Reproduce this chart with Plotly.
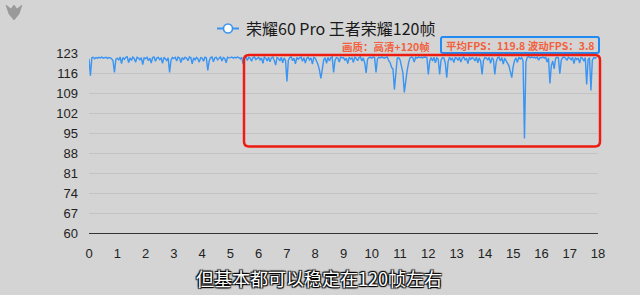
import plotly.graph_objects as go

fps = [
    121, 115.1, 121.3, 121.5, 121, 121.4, 121.2, 121.5, 121.3, 121.6, 121.2, 121.4, 121.5, 121.1, 121.4, 121.3, 121, 120.2, 116.2, 120.8,
    121.2, 120.5, 121.6, 119.3, 121.4, 120.8, 121.5, 121.7, 119.6, 121.3, 120.4, 121.6, 121, 119.8, 121.5, 121.2, 120.6, 121.4, 118.9, 121.3,
    121, 121.5, 120.3, 121.2, 119.5, 121.4, 121.6, 120.1, 121.3, 121.5, 120.7, 121.2, 119.4, 121.5, 121, 120.4, 121.3, 116.2, 120.5, 121.4,
    121.1, 121.5, 120.2, 121.6, 121.3, 119.7, 121.4, 120.8, 121.5, 121.2, 120.3, 121.6, 121.4, 119.2, 121.3, 120.6, 121.5, 121, 119.8, 121.4,
    121.2, 120.1, 121.5, 121.3, 116.9, 120.2, 121.4, 121.6, 119.9, 121.3, 121.5, 120.6, 121.2, 121.6, 120.2, 121.4, 121.1, 119.6, 121.5, 121.3,
    121.4, 121.6, 121.2, 121.5, 121.3, 121.6, 121.4, 120.9, 121.5, 119.2, 121.3, 121.6, 120.4, 121.5, 121.2, 120.1, 121.4, 121.6, 120.7, 121.3,
    121.5, 120.6, 121.3, 119.4, 121.6, 121.2, 120.2, 121.5, 119.9, 121.3, 121.6, 120.5, 118.8, 121.4, 121.1, 120.2, 121.5, 119.6, 121.3, 120.4,
    113, 120.5, 121.4, 121.6, 120.3, 121.2, 119.2, 121.5, 120.8, 121.3, 121.6, 120.1, 121.4, 119.5, 121.2, 121.5, 120.6, 121.3, 119.1, 121.5,
    121.2, 120.1, 118.9, 117, 114.1, 117.3, 120.6, 121.4, 119.4, 121.5, 120.2, 121.3, 121.6, 116.2, 120.5, 121.4, 121.2, 119.8, 121.5, 121.3,
    121.4, 120.5, 121.2, 119.3, 121.5, 120.9, 121.3, 119.7, 121.6, 121.1, 120.3, 121.4, 121.6, 120.2, 121.3, 119.5, 116, 120.8, 121.4, 121.5,
    121.2, 121.6, 121.4, 116.2, 121, 121.5, 121.3, 121.6, 121.4, 121.2, 121.5, 121.6, 120.3, 119.6, 118, 117.4, 110.2, 117.6, 121.2, 121.4,
    120.6, 118.3, 116.1, 109.2, 113.4, 116.8, 119.5, 121.3, 121.6, 121.4, 119.8, 121.5, 121.2, 121.6, 121.4, 121.5, 121.3, 121.6, 121.5, 121.4,
    115.5, 120.3, 121.4, 120.2, 121.5, 119.6, 121.3, 120.8, 115.5, 120.6, 121.4, 121.2, 119.5, 114.4, 120.1, 121.5, 120.6, 121.3, 119.7, 121.4,
    121.2, 120.4, 121.5, 119.8, 121.3, 121.6, 120.5, 121.2, 119.3, 121.5, 120.8, 121.4, 121.1, 120.2, 121.5, 119.6, 121.3, 120.1, 115.5, 120.4,
    121.4, 121.2, 120.6, 121.5, 119.4, 121.3, 120.8, 115.5, 119.9, 121.3, 121.5, 120.2, 121.4, 119.1, 121.2, 120.3, 119.6, 118.5, 116.5, 114.4,
    118.2, 120.4, 121.3, 119.7, 121.5, 120.9, 121.4, 120.2, 93.1, 119.8, 121.5, 121.7, 121.3, 121.6, 121.4, 121.5, 121.2, 121.6, 120.5, 121.4,
    121.3, 121.6, 121.2, 121.5, 119.8, 121.3, 112.3, 118.6, 120.2, 117.4, 121.1, 121.5, 121.3, 115.8, 120.5, 121.4, 121.6, 121.2, 120.4, 121.5,
    121.2, 120.6, 121.5, 119.3, 121.4, 120.7, 121.3, 119.5, 121.5, 121.2, 120.1, 121.4, 112, 120.8, 121.3, 109.9, 120.5, 121.4, 121.2, 121.5,
]
minutes = [round(i * 0.05, 2) for i in range(len(fps))]

y_ticks = [60, 67, 74, 81, 88, 95, 102, 109, 116, 123]
x_ticks = list(range(0, 19))

title_text = "荣耀60 Pro 王者荣耀120帧"
quality_text = "画质：高清+120帧"
stats_text = "平均FPS：119.8 波动FPS：3.8"
caption_text = "但基本都可以稳定在120帧左右"

BLUE = "#3a94f2"
RED_TXT = "#f2613d"

# plot area geometry (pixels) used for paper conversions of decorations
L, R, T, B = 89, 42, 53, 62
W, H = 640, 295
PW, PH = W - L - R, H - T - B

def px(x):
    return (x - L) / PW

def py(y):
    return (H - B - y) / PH

fig = go.Figure()
fig.add_trace(go.Scatter(
    x=minutes, y=fps, mode="lines",
    line=dict(color=BLUE, width=1.4),
    showlegend=False, hoverinfo="skip",
))

TY = 27.5
shapes = []
# legend icon: line + circle
shapes.append(dict(type="line", xref="paper", yref="paper",
                   x0=px(217), x1=px(239), y0=py(TY + 1), y1=py(TY + 1),
                   line=dict(color=BLUE, width=2)))
r = 4.5
shapes.append(dict(type="circle", xref="paper", yref="paper",
                   x0=px(228 - r), x1=px(228 + r), y0=py(TY + 1 + r), y1=py(TY + 1 - r),
                   fillcolor="white", line=dict(color=BLUE, width=1.6)))

def rounded_rect(x0, y0, x1, y1, rad):
    # pixel coords -> paper path with rounded corners
    rx, ry = rad / PW, rad / PH
    X0, X1 = px(x0), px(x1)
    Yt, Yb = py(y0), py(y1)
    return (f"M {X0+rx},{Yt} L {X1-rx},{Yt} Q {X1},{Yt} {X1},{Yt-ry} "
            f"L {X1},{Yb+ry} Q {X1},{Yb} {X1-rx},{Yb} "
            f"L {X0+rx},{Yb} Q {X0},{Yb} {X0},{Yb+ry} "
            f"L {X0},{Yt-ry} Q {X0},{Yt} {X0+rx},{Yt} Z")

shapes.append(dict(type="path", xref="paper", yref="paper",
                   path=rounded_rect(441, 37, 599, 53, 2),
                   line=dict(color="#2389f3", width=2)))
shapes.append(dict(type="path", xref="paper", yref="paper",
                   path=rounded_rect(244, 55, 600, 146.5, 5),
                   line=dict(color="#ee1c10", width=2.5)))
# small grey logo mark (top-left)
shapes.append(dict(type="path", xref="paper", yref="paper",
                   path=(f"M {px(6)},{py(5)} L {px(11)},{py(9)} L {px(14)},{py(5)} L {px(17)},{py(9)} "
                         f"L {px(22)},{py(5)} L {px(19)},{py(14)} L {px(14)},{py(20)} L {px(9)},{py(14)} Z"),
                   fillcolor="#9a9a9a", line=dict(color="#8a8a8a", width=0.5)))

annotations = [
    dict(text=title_text, xref="paper", yref="paper", x=px(245), y=py(TY),
         xanchor="left", yanchor="middle", showarrow=False, borderpad=0,
         font=dict(family="Noto Sans CJK SC", size=16, color="#1a1a1a")),
    dict(text=f"<b>{quality_text}</b>", xref="paper", yref="paper", x=px(431), y=py(47),
         xanchor="right", yanchor="middle", showarrow=False, borderpad=0,
         font=dict(family="Noto Sans CJK SC", size=10.5, color=RED_TXT)),
    dict(text=f"<b>{stats_text}</b>", xref="paper", yref="paper", x=px(520), y=py(45.5),
         xanchor="center", yanchor="middle", showarrow=False, borderpad=0,
         font=dict(family="Noto Sans CJK SC", size=10.5, color=RED_TXT)),
    dict(text=caption_text, xref="paper", yref="paper", x=px(319), y=py(278),
         xanchor="center", yanchor="middle", showarrow=False,
         font=dict(family="Noto Sans CJK SC", size=18, color="white",
                   shadow="1px 1px 1px #000, -1px -1px 1px #000, 1px -1px 1px #000, -1px 1px 1px #000")),
]

fig.update_layout(
    width=W, height=H,
    margin=dict(l=L, r=R, t=T, b=B, pad=0),
    paper_bgcolor="#d4d4d4", plot_bgcolor="#d4d4d4",
    shapes=shapes, annotations=annotations,
    showlegend=False,
    font=dict(family="Liberation Sans", size=13, color="#222"),
)
fig.update_xaxes(range=[0, 18], tickvals=x_ticks, ticktext=[str(v) for v in x_ticks],
                 showgrid=False, zeroline=False, showline=True, linecolor="#333",
                 linewidth=1, ticks="", ticklabelstandoff=8,
                 tickfont=dict(family="Liberation Sans", size=13, color="#222"))
fig.update_yaxes(range=[60, 123], tickvals=y_ticks, ticktext=[str(v) for v in y_ticks],
                 showgrid=True, gridcolor="#c3c3c3", gridwidth=1, zeroline=False,
                 showline=False, ticks="", ticklabelstandoff=10,
                 tickfont=dict(family="Liberation Sans", size=13, color="#222"))

fig.write_html("out.html", config=dict(displayModeBar=False))
